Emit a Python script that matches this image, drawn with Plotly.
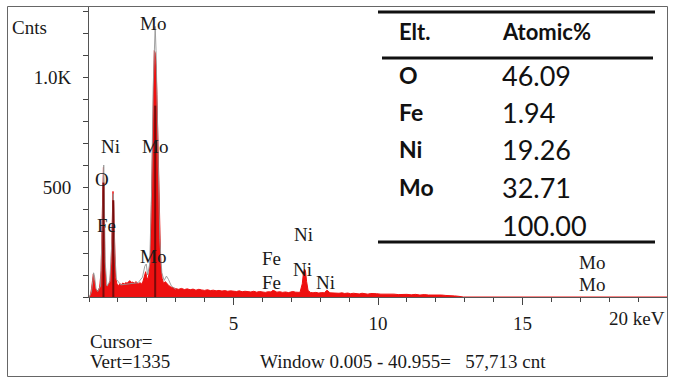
import plotly.graph_objects as go

# ---- EDS spectrum (energy in keV, counts) ----
energy_kev = [0.00, 0.05, 0.09, 0.12, 0.15, 0.18, 0.22, 0.27, 0.32, 0.37, 0.42, 0.46, 0.48,
              0.50, 0.52, 0.55, 0.59, 0.64, 0.69, 0.73, 0.77, 0.80, 0.83, 0.85, 0.88,
              0.92, 0.97, 1.02, 1.07, 1.12, 1.17, 1.22, 1.27, 1.32, 1.37, 1.42, 1.47,
              1.52, 1.57, 1.62, 1.67, 1.72, 1.77, 1.82, 1.87, 1.92, 1.96, 2.00, 2.04,
              2.08, 2.12, 2.16, 2.20, 2.23, 2.26, 2.29, 2.32, 2.35, 2.38, 2.41, 2.44,
              2.48, 2.53, 2.58, 2.64, 2.70, 2.76, 2.83, 2.90, 3.00, 3.10, 3.20, 3.30,
              3.40, 3.50, 3.60, 3.70, 3.80, 3.90, 4.00, 4.10, 4.20, 4.30, 4.40, 4.50,
              4.60, 4.70, 4.80, 4.90, 5.00, 5.10, 5.20, 5.30, 5.40, 5.50, 5.60, 5.70,
              5.80, 5.90, 6.00, 6.10, 6.20, 6.30, 6.35, 6.42, 6.50, 6.60, 6.70, 6.80,
              6.90, 7.00, 7.05, 7.15, 7.30, 7.38, 7.42, 7.46, 7.49, 7.53, 7.58, 7.66,
              7.75, 7.85, 7.95, 8.05, 8.15, 8.22, 8.27, 8.33, 8.45, 8.55, 8.65, 8.75,
              8.85, 8.95, 9.05, 9.15, 9.25, 9.35, 9.45, 9.55, 9.65, 9.75, 9.85, 9.95,
              10.10, 10.25, 10.40, 10.55, 10.70, 10.85, 11.00, 11.15, 11.30, 11.45,
              11.60, 11.75, 11.90, 12.05, 12.20, 12.35, 12.50, 12.65, 12.80, 12.95, 20.00]
counts = [0, 8, 40, 85, 105, 80, 40, 28, 30, 45, 120, 380, 520,
          590, 420, 150, 55, 48, 60, 75, 160, 330, 480, 430, 240,
          90, 58, 52, 60, 56, 64, 58, 66, 62, 70, 74, 66,
          68, 62, 70, 64, 60, 66, 58, 72, 95, 115, 90, 78,
          110, 160, 420, 760, 980, 1120, 1110, 1050, 920, 760, 520, 300,
          150, 85, 62, 70, 58, 52, 46, 42, 38, 35, 39, 34,
          37, 33, 36, 31, 35, 32, 30, 33, 29, 31, 28, 30,
          27, 29, 26, 28, 27, 25, 28, 24, 26, 25, 23, 26,
          22, 25, 24, 21, 24, 23, 30, 28, 22, 24, 21, 23,
          20, 23, 25, 22, 21, 60, 110, 127, 118, 70, 30, 21,
          19, 21, 18, 20, 19, 30, 28, 19, 18, 20, 17, 19,
          16, 18, 15, 17, 16, 14, 17, 15, 13, 16, 14, 15,
          13, 14, 12, 13, 11, 13, 12, 10, 12, 9,
          11, 9, 10, 8, 9, 7, 7, 5, 3, 0, 0]

# fitted profile drawn as a thin grey outline
fit_kev = [0.00, 0.08, 0.13, 0.16, 0.19, 0.24, 0.30, 0.40, 0.45, 0.49, 0.51, 0.53, 0.56,
           0.62, 0.72, 0.79, 0.82, 0.84, 0.86, 0.89, 0.95, 1.10, 1.40, 1.70, 1.85,
           1.93, 1.98, 2.03, 2.10, 2.17, 2.22, 2.26, 2.29, 2.32, 2.36, 2.40, 2.45,
           2.52, 2.60, 2.68, 2.75, 2.85, 3.00]
fit_counts = [0, 20, 70, 110, 95, 40, 25, 50, 280, 560, 600, 450, 160,
              50, 70, 250, 430, 470, 400, 200, 80, 55, 60, 65, 90,
              140, 150, 100, 150, 500, 950, 1180, 1230, 1120, 880, 560, 260,
              110, 75, 95, 80, 50, 35]

# KLM marker lines (energy, height)
marker_kev = [0.50, 0.84, 2.29]
marker_top = [520, 440, 870]

# element labels on the spectrum (text, energy, counts)
peak_text = ["Mo", "Ni", "Mo", "O", "Fe", "Mo", "Fe", "Fe", "Ni", "Ni", "Ni", "Mo", "Mo"]
peak_kev = [2.21, 0.76, 2.30, 0.45, 0.62, 2.21, 6.31, 6.31, 7.42, 7.40, 8.17, 17.42, 17.42]
peak_cnt = [1245, 684, 684, 534, 323, 186, 173, 66, 282, 127, 66, 157, 59]

# quantification table
elements = ["O", "Fe", "Ni", "Mo"]
atomic_pct = ["46.09", "1.94", "19.26", "32.71"]
total_pct = "100.00"

x_ticks = [5, 10, 15]
y_ticks = [500, 1000]
y_tick_text = ["500", "1.0K"]

W, H = 673, 378
ML, MR, MT, MB = 89, 6, 6, 81
PW, PH = W - ML - MR, H - MT - MB


def px(x):
    return (x - ML) / PW


def py(y):
    return (H - MB - y) / PH


SERIF = "Liberation Serif"
SANS = "Lato"
INK = "#1a1a1a"

fig = go.Figure()

fig.add_trace(go.Scatter(
    x=energy_kev, y=counts, mode="lines", fill="tozeroy",
    line=dict(color="#ee1010", width=1), fillcolor="#ee1010",
    hoverinfo="skip", showlegend=False))

fig.add_trace(go.Scatter(
    x=fit_kev, y=fit_counts, mode="lines",
    line=dict(color="rgba(150,150,150,0.9)", width=1),
    hoverinfo="skip", showlegend=False))

mx, my = [], []
for e, h in zip(marker_kev, marker_top):
    mx += [e, e, None]
    my += [0, h, None]
fig.add_trace(go.Scatter(
    x=mx, y=my, mode="lines", line=dict(color="#7a0a0a", width=2),
    hoverinfo="skip", showlegend=False))

annotations = []
for t, e, c in zip(peak_text, peak_kev, peak_cnt):
    annotations.append(dict(x=e, y=c, xref="x", yref="y", text=t, showarrow=False,
                            font=dict(family=SERIF, size=19, color=INK),
                            xanchor="center", yanchor="middle"))

# axis captions and status lines
annotations += [
    dict(x=px(10), y=py(28), text="Cnts", xanchor="left"),
    dict(x=px(667), y=py(318), text="20 keV", xanchor="right"),
    dict(x=px(88), y=py(342), text="Cursor=", xanchor="left"),
    dict(x=px(88), y=py(361), text="Vert=1335", xanchor="left"),
    dict(x=px(258), y=py(361),
         text="Window 0.005 - 40.955=\u00a0\u00a0\u00a057,713 cnt", xanchor="left"),
]
for a in annotations[-5:]:
    a.update(xref="paper", yref="paper", showarrow=False, yanchor="middle",
             font=dict(family=SERIF, size=19, color=INK))

# table text
col1, col2 = 397, 500
table = [dict(x=px(col1), y=py(31), text="<b>Elt.</b>", size=22),
         dict(x=px(col2), y=py(31), text="<b>Atomic%</b>", size=22)]
row_y = [75, 112, 149, 187]
for el, v, ry in zip(elements, atomic_pct, row_y):
    table.append(dict(x=px(col1), y=py(ry), text="<b>%s</b>" % el, size=23))
    table.append(dict(x=px(col2), y=py(ry), text=v, size=27))
table.append(dict(x=px(col2), y=py(225), text=total_pct, size=27))
for t in table:
    annotations.append(dict(x=t["x"], y=t["y"], xref="paper", yref="paper", text=t["text"],
                            showarrow=False, xanchor="left", yanchor="middle",
                            font=dict(family=SANS, size=t["size"], color="#111")))

shapes = [
    # outer frame
    dict(type="rect", xref="paper", yref="paper", x0=px(7.5), x1=px(667.5),
         y0=py(376.5), y1=py(6.5), line=dict(color="#666", width=1)),
    # table rules
    dict(type="line", xref="paper", yref="paper", x0=px(378), x1=px(655),
         y0=py(12), y1=py(12), line=dict(color="#111", width=3)),
    dict(type="line", xref="paper", yref="paper", x0=px(382), x1=px(653),
         y0=py(58), y1=py(58), line=dict(color="#111", width=3)),
    dict(type="line", xref="paper", yref="paper", x0=px(378), x1=px(655),
         y0=py(242), y1=py(242), line=dict(color="#111", width=3)),
]

fig.update_layout(
    width=W, height=H, margin=dict(l=ML, r=MR, t=MT, b=MB),
    paper_bgcolor="white", plot_bgcolor="white",
    showlegend=False, annotations=annotations, shapes=shapes,
    xaxis=dict(range=[0, 20], tickmode="array", tickvals=x_ticks,
               ticks="outside", ticklen=7, tickcolor="#444",
               showline=True, linecolor="#555", linewidth=1,
               showgrid=False, zeroline=False, ticklabelstandoff=2,
               tickfont=dict(family=SERIF, size=19, color=INK),
               minor=dict(tickmode="linear", tick0=0, dtick=1, ticks="outside",
                          ticklen=4, tickcolor="#444", showgrid=False)),
    yaxis=dict(range=[0, 1323], tickmode="array", tickvals=y_ticks, ticktext=y_tick_text,
               ticks="outside", ticklen=5, tickcolor="#444",
               showline=True, linecolor="#555", linewidth=1,
               showgrid=False, zeroline=False, ticklabelstandoff=8,
               tickfont=dict(family=SERIF, size=19, color=INK),
               minor=dict(tickmode="linear", tick0=0, dtick=100, ticks="outside",
                          ticklen=5, tickcolor="#444", showgrid=False)),
)

fig.write_html("out.html")
